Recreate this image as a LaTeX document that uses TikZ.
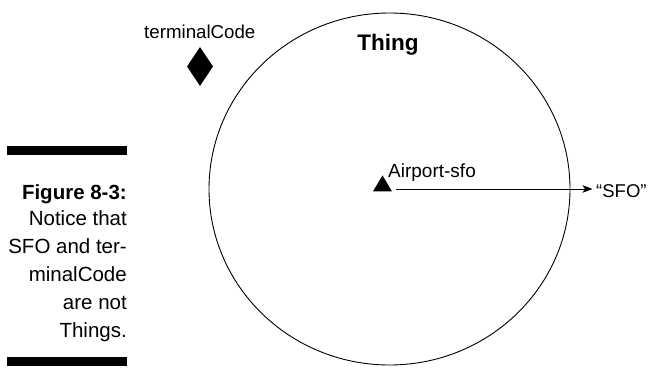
\documentclass[tikz,border=0pt]{standalone}
\usepackage{fontspec}
\setmainfont{Liberation Sans}
\usetikzlibrary{shapes.geometric,arrows.meta}
\tikzset{
  lbl/.style={inner sep=0pt, font=\fontsize{19}{22}\selectfont},
  captionline/.style={inner sep=0pt, anchor=base east, font=\fontsize{20.5}{24}\selectfont},
  bar/.style={fill=black},
  arr/.style={line width=0.9pt, -{Stealth[length=10pt,width=7.5pt,inset=2.5pt]}},
  blackmark/.style={fill=black, draw=none, inner sep=0pt}
}
\begin{document}
\begin{tikzpicture}[x=1pt,y=-1pt]
\useasboundingbox (0,0) rectangle (648,367);
% big set ellipse
\node (thingset) [ellipse, draw, line width=0.9pt, minimum width=361pt, minimum height=352pt, inner sep=0pt] at (389.5,189) {};
\node (thing) [inner sep=0pt, anchor=base, font=\fontsize{22.5}{26}\selectfont\bfseries] at (388,50) {Thing};
% terminalCode
\node (tclabel) [lbl, anchor=base west, font=\fontsize{18.7}{22}\selectfont] at (144,38) {terminalCode};
\node (tcmark) [blackmark, diamond, aspect=0.67, minimum width=26pt, minimum height=39pt] at (200,66.5) {};
% Airport-sfo
\node (tri) [blackmark, isosceles triangle, isosceles triangle stretches, shape border rotate=90, minimum width=19pt, minimum height=16pt] at (382.5,186) {};
\node (airport) [lbl, anchor=base west] at (388,177) {Airport-sfo};
\coordinate (arrstart) at (396,189);
\node (sfo) [lbl, anchor=base west, inner xsep=3.5pt, font=\fontsize{18.5}{22}\selectfont] at (592.5,197.5) {“SFO”};
\draw[arr] (arrstart) -- (sfo.west |- arrstart);
% caption
\fill[bar] (7,146) rectangle (127,155);
\node (c1) [captionline, font=\fontsize{20.5}{24}\selectfont\bfseries] at (127,199) {Figure 8-3:};
\node (c2) [captionline] at (127,225) {Notice that};
\node (c3) [captionline] at (127,253) {SFO and ter-};
\node (c4) [captionline] at (127,281) {minalCode};
\node (c5) [captionline] at (127,309) {are not};
\node (c6) [captionline] at (127,337) {Things.};
\fill[bar] (7,357) rectangle (127,366);
\end{tikzpicture}
\end{document}
